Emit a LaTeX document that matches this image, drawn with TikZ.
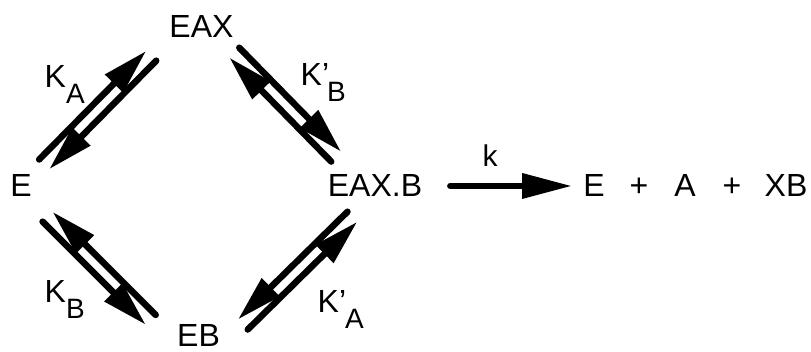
\documentclass[tikz,border=0pt]{standalone}
\usepackage{fontspec}
\setmainfont{Liberation Sans}
\usetikzlibrary{arrows.meta, calc}

% Lowered subscript of a rate constant (nearly full size, as in the scheme).
\newcommand{\lowsub}[1]{\raisebox{-16pt}{\fontsize{28}{30}\selectfont #1}}

% Pair of opposed arrows between two anchors.
% #1,#2: anchors; #3,#4: shortening at #1 and #2;
% #5: side of the forward arrow, #6: the opposite side.
\newcommand{\eqpair}[6]{%
  \draw[rxn, shorten <=#3, shorten >=#4] ($(#1)!7pt!#5:(#2)$) -- ($(#2)!7pt!#6:(#1)$);
  \draw[rxn, shorten <=#4, shorten >=#3] ($(#2)!7pt!#5:(#1)$) -- ($(#1)!7pt!#6:(#2)$);
}

\begin{document}
\begin{tikzpicture}[x=1pt, y=-1pt,
    % Chemical species: plain sans labels placed on their baseline.
    species/.style={inner sep=0pt, anchor=base,
                    font=\fontsize{32}{38}\selectfont},
    % Equilibrium constants: placed by the left end of their baseline.
    kconst/.style={inner sep=0pt, anchor=base west,
                   font=\fontsize{32}{38}\selectfont},
    % Reaction arrows: thick lines with long, narrow heads.
    rxn/.style={-{Triangle[length=46pt, width=24pt]},
                line width=6.5pt, line cap=round}
]
    \useasboundingbox (0,0) rectangle (811,352);

    % === Enzyme complexes (corners of the square) ===
    \node[species] (E)    at (21, 197)    {E};
    \node[species] (EAX)  at (201.5, 38)  {EAX};
    \node[species] (EAXB) at (375, 197)   {EAX.B};
    \node[species] (EB)   at (198.5, 347) {EB};

    % === Products ===
    \node[species] (pE)    at (594, 197) {E};
    \node[species] (plusA) at (639, 197) {+};
    \node[species] (pA)    at (685, 197) {A};
    \node[species] (plusB) at (732, 197) {+};
    \node[species] (pXB)   at (786, 197) {XB};

    % === Constants ===
    \node[kconst] (KA)  at (44.5, 88)  {K\lowsub{A}};
    \node[kconst] (KBp) at (300.5, 86) {K’\kern-2pt\lowsub{B}};
    \node[kconst] (KB)  at (44.5, 303) {K\lowsub{B}};
    \node[kconst] (KAp) at (317.5, 313) {K’\kern-1pt\lowsub{A}};
    \node[species, font=\fontsize{30}{34}\selectfont] (k) at (490, 167) {k};

    % === Equilibria round the square ===
    % Forward arrow always on the outer side.
    \eqpair{E.40}{EAX.198}{17.5pt}{25.7pt}{90}{-90}
    \eqpair{EAX.-31}{EAXB.152}{20.2pt}{25.3pt}{90}{-90}
    \eqpair{E.-58}{EB.205}{27.6pt}{37pt}{-90}{90}
    \eqpair{EB.-27}{EAXB.256}{32pt}{27.8pt}{-90}{90}

    % === Irreversible step ===
    \draw[rxn, -{Triangle[length=50pt, width=24pt]},
          shorten <=28pt, shorten >=11pt] (EAXB.east) -- (pE.west);

\end{tikzpicture}
\end{document}
